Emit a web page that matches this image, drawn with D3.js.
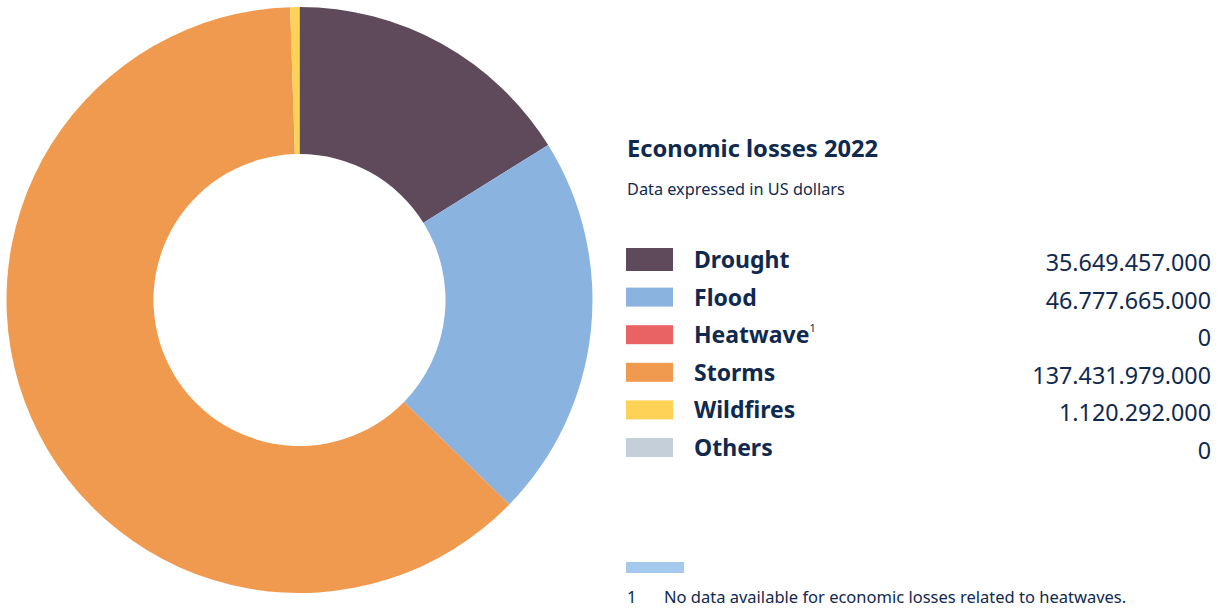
<!DOCTYPE html>
<html>
<head>
<meta charset="utf-8">
<script src="https://cdn.jsdelivr.net/npm/d3@7"></script>
<style>
  body { margin: 0; background: #fff; }
  svg text { font-family: 'Noto Sans', sans-serif; fill: #10294f; }
</style>
</head>
<body>
<svg id="chart" width="1219" height="610"></svg>
<script>
const categories = ['Drought', 'Flood', 'Heatwave', 'Storms', 'Wildfires', 'Others']
const losses = [35649457000, 46777665000, 0, 137431979000, 1120292000, 0]
const valueLabels = ['35.649.457.000', '46.777.665.000', '0', '137.431.979.000', '1.120.292.000', '0']
const colors = ['#5e4a5b', '#8bb3df', '#e96264', '#f09a50', '#fdd257', '#c5cfd9']

const svg = d3.select('#chart')

const data = categories.map((c, i) => ({ name: c, value: losses[i] }))

const color = d3.scaleOrdinal()
  .domain(categories)
  .range(colors)

const pie = d3.pie()
  .sort(null)
  .value(d => d.value)

const arc = d3.arc()
  .innerRadius(146)
  .outerRadius(293)

const donut = svg.append('g')
  .attr('transform', 'translate(299.5,300)')

donut.selectAll('path')
  .data(pie(data))
  .enter()
  .append('path')
  .attr('d', arc)
  .attr('fill', d => color(d.data.name))

// title block
svg.append('text')
  .attr('x', 627)
  .attr('y', 157)
  .attr('font-size', 23.7)
  .attr('font-weight', 700)
  .text('Economic losses 2022')

svg.append('text')
  .attr('x', 627)
  .attr('y', 195)
  .attr('font-size', 16.3)
  .text('Data expressed in US dollars')

// legend rows
const rowY = d3.scalePoint()
  .domain(categories)
  .range([260, 448])

const legend = svg.append('g')

const rows = legend.selectAll('g')
  .data(data)
  .enter()
  .append('g')
  .attr('transform', d => 'translate(0,' + rowY(d.name) + ')')

rows.append('rect')
  .attr('x', 626)
  .attr('y', (d, i) => i === 0 ? -12 : -10)
  .attr('width', 47)
  .attr('height', (d, i) => i === 0 ? 23 : 19)
  .attr('fill', d => color(d.name))

const labels = rows.append('text')
  .attr('x', 694)
  .attr('y', 8)
  .attr('font-size', 23)
  .attr('font-weight', 700)
  .text(d => d.name)

labels.filter(d => d.name === 'Heatwave')
  .append('tspan')
  .attr('font-size', 11)
  .attr('font-weight', 400)
  .attr('dy', -11)
  .text('1')

rows.append('text')
  .attr('x', 1211)
  .attr('y', 11)
  .attr('text-anchor', 'end')
  .attr('font-size', 23.3)
  .text((d, i) => valueLabels[i])

// footnote
svg.append('rect')
  .attr('x', 626)
  .attr('y', 562)
  .attr('width', 58)
  .attr('height', 11)
  .attr('fill', '#a5c9ec')

svg.append('text')
  .attr('x', 627)
  .attr('y', 603)
  .attr('font-size', 16.5)
  .text('1')

svg.append('text')
  .attr('x', 664)
  .attr('y', 603)
  .attr('font-size', 16.5)
  .text('No data available for economic losses related to heatwaves.')
</script>
</body>
</html>
